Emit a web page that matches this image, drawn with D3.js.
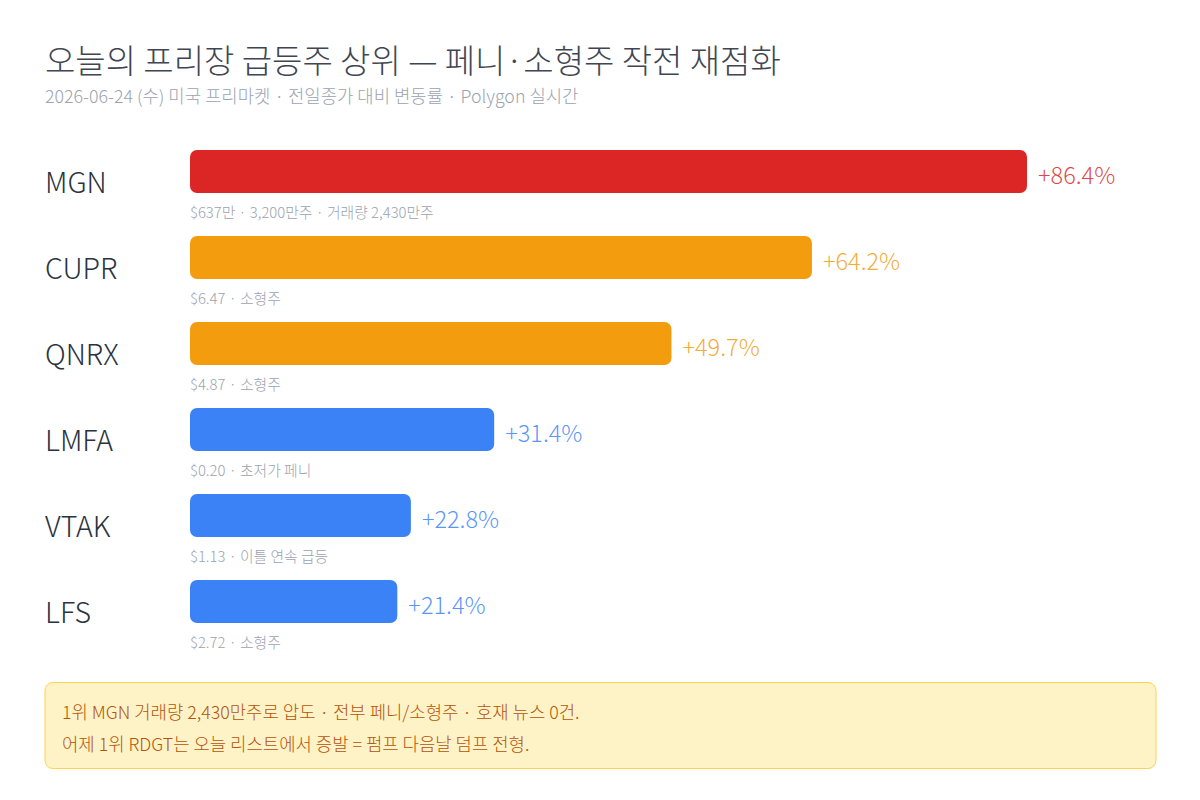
<!DOCTYPE html>
<html>
<head>
<meta charset="utf-8">
<script src="https://cdn.jsdelivr.net/npm/d3@7"></script>
<style>
  body { margin: 0; background: #fff; }
  svg { display: block; font-family: "Noto Sans CJK KR Light", "Noto Sans CJK KR DemiLight", "Noto Sans CJK KR", "Noto Sans", sans-serif; font-weight: 300; }
</style>
</head>
<body>
<div id="chart"></div>
<script>
// data
var tickers = ["MGN", "CUPR", "QNRX", "LMFA", "VTAK", "LFS"];
var changes = [86.4, 64.2, 49.7, 31.4, 22.8, 21.4];
var details = [
  "$637만 · 3,200만주 · 거래량 2,430만주",
  "$6.47 · 소형주",
  "$4.87 · 소형주",
  "$0.20 · 초저가 페니",
  "$1.13 · 이틀 연속 급등",
  "$2.72 · 소형주"
];
var tiers = ["top", "mid", "mid", "low", "low", "low"];
var noteLines = [
  "1위 MGN 거래량 2,430만주로 압도 · 전부 페니/소형주 · 호재 뉴스 0건.",
  "어제 1위 RDGT는 오늘 리스트에서 증발 = 펌프 다음날 덤프 전형."
];

var titleText = "오늘의 프리장 급등주 상위 — 페니·소형주 작전 재점화";
var subText = "2026-06-24 (수) 미국 프리마켓 · 전일종가 대비 변동률 · Polygon 실시간";

var svgWidth = 1200, svgHeight = 800;

var svg = d3.select("#chart").append("svg")
  .attr("width", svgWidth)
  .attr("height", svgHeight);

var color = d3.scaleOrdinal()
  .domain(["top", "mid", "low"])
  .range(["#dc2626", "#f39c0e", "#3b82f6"]);

// scales
var x = d3.scaleLinear()
  .domain([0, d3.max(changes)])
  .range([190, 1027]);

// band step 86, bar height 43
var y = d3.scaleBand()
  .domain(tickers)
  .range([150, 150 + 86 * 6 - 43])
  .paddingInner(0.5)
  .paddingOuter(0);

// title
svg.append("text")
  .attr("x", 45).attr("y", 73)
  .attr("font-size", 33)
  .attr("fill", "#3f4652")
  .text(titleText);

svg.append("text")
  .attr("x", 45).attr("y", 103)
  .attr("font-size", 17.8)
  .attr("fill", "#9ca3af")
  .text(subText);

var rows = svg.selectAll("g.row")
  .data(tickers)
  .enter().append("g")
  .attr("class", "row");

rows.append("rect")
  .attr("x", x(0))
  .attr("y", d => y(d))
  .attr("width", (d, i) => x(changes[i]) - x(0))
  .attr("height", y.bandwidth())
  .attr("rx", 7)
  .attr("fill", (d, i) => color(tiers[i]));

rows.append("text")
  .attr("x", 45)
  .attr("y", d => y(d) + y.bandwidth() / 2 + 21)
  .attr("font-size", 28.5)
  .attr("fill", "#2b3340")
  .text(d => d);

rows.append("text")
  .attr("x", (d, i) => x(changes[i]) + 11)
  .attr("y", d => y(d) + y.bandwidth() / 2 + 12)
  .attr("font-size", 23.5)
  .attr("fill", (d, i) => color(tiers[i]))
  .attr("fill-opacity", 0.85)
  .text((d, i) => "+" + changes[i].toFixed(1) + "%");

rows.append("text")
  .attr("x", x(0))
  .attr("y", d => y(d) + y.bandwidth() + 25)
  .attr("font-size", 14.8)
  .attr("fill", "#9ca3af")
  .text((d, i) => details[i]);

// note box
svg.append("rect")
  .attr("x", 45).attr("y", 682.5)
  .attr("width", 1111).attr("height", 86)
  .attr("rx", 8)
  .attr("fill", "#fef3c7")
  .attr("stroke", "#fcd34d")
  .attr("stroke-width", 1);

svg.selectAll("text.note")
  .data(noteLines)
  .enter().append("text")
  .attr("class", "note")
  .attr("x", 62)
  .attr("y", (d, i) => 719 + i * 32)
  .attr("font-size", 17.8)
  .attr("fill", "#b45309")
  .text(d => d);
</script>
</body>
</html>
